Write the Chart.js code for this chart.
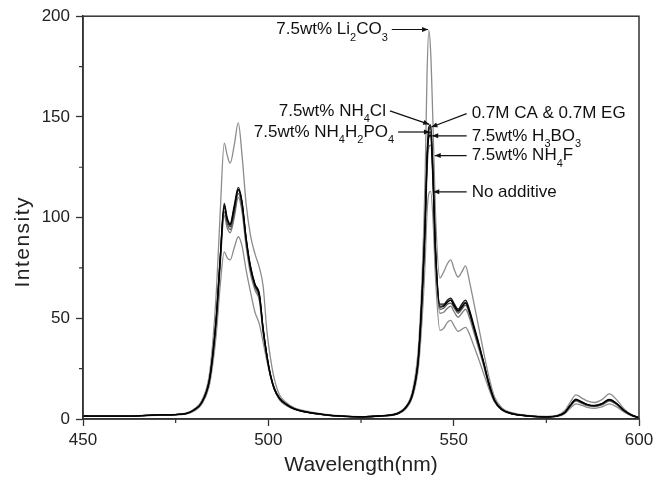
<!DOCTYPE html>
<html>
<head>
<meta charset="utf-8">
<script src="https://cdn.jsdelivr.net/npm/chart.js@4.4.1/dist/chart.umd.min.js"></script>
<style>
html, body { margin: 0; padding: 0; background: #fff; }
</style>
</head>
<body>
<canvas id="myChart" width="669" height="483"></canvas>
<script>
'use strict';
// wavelength grid (nm)
let wavelength = [450, 455, 460, 465, 470, 475, 478, 480, 482,
    484, 485, 486, 487, 488.1, 488.9, 489.7, 490.8, 491.9, 492.9,
    494, 495.2, 496.4, 497.6, 498.6, 499.6, 500.6, 501.6, 503, 505,
    507, 510, 515, 520, 525, 530, 535, 537, 539, 540.5,
    541.5, 542.3, 542.8, 543.3, 543.8, 544.4, 545.1, 546.3, 547.3, 548.3,
    549.2, 550.2, 551.2, 552.2, 553.2, 554.3, 555.3, 556.5, 558, 559.5,
    561, 563, 566, 570, 575, 578, 580, 581.5, 583, 584.5,
    586, 588, 590, 592, 594, 596, 598, 600];

let li2co3 = [1.6, 1.5, 1.5, 1.7, 2.1, 2.3, 3.0, 5.0, 9.0,
    21, 38, 64, 102, 137, 131, 127, 136, 147, 131,
    107, 91, 82, 75, 66, 44, 30, 20, 12, 8,
    5.5, 4, 2.4, 1.5, 1.2, 1.6, 3.2, 6, 15, 36,
    72, 120, 170, 193, 182, 148, 102, 70, 73, 77,
    79, 74, 70.5, 73, 76, 68, 59, 48, 34, 21,
    11, 5.5, 3, 1.8, 1.3, 1.9, 4.2, 8.5, 12, 10.5,
    9, 8.2, 9.6, 12.5, 9.5, 5, 2.2, 0.8];

let nh4cl = [1.5, 1.4, 1.4, 1.6, 2.0, 2.2, 2.8, 4.6, 8.2,
    18.5, 32, 52, 80, 107, 100, 97, 106, 115, 108,
    90, 76, 67, 62, 45, 32, 22, 15.5, 10.5, 7.2,
    5.1, 3.6, 2.2, 1.4, 1.1, 1.5, 2.9, 5.6, 13.5, 31,
    63, 98, 130, 145, 146, 123, 85, 57, 57, 59,
    60, 57, 54.5, 57, 59, 54, 47.5, 39.5, 29, 18,
    9.5, 4.8, 2.6, 1.6, 1.1, 1.6, 3.3, 7, 9.8, 8.6,
    7.3, 6.7, 7.7, 9.7, 7.7, 4.2, 1.9, 0.6];

let caEg = [1.5, 1.4, 1.4, 1.6, 2.0, 2.2, 2.8, 4.5, 8.1,
    18.2, 31.5, 51, 79, 105, 99, 95.5, 104, 113.5, 107,
    89, 75, 66.5, 61, 44.5, 31.5, 21.5, 15, 10.2, 7,
    5, 3.5, 2.2, 1.4, 1.1, 1.5, 2.8, 5.5, 13, 30.5,
    62, 97, 129, 143, 145, 124, 84, 56, 56.5, 58,
    59, 56, 54, 56, 58, 53, 46.5, 39, 28.5, 17.5,
    9.2, 4.7, 2.5, 1.6, 1.1, 1.5, 3.2, 6.8, 9.4, 8.3,
    7.1, 6.5, 7.4, 9.4, 7.4, 4.1, 1.9, 0.6];

let nh4h2po4 = [1.5, 1.4, 1.4, 1.6, 2.0, 2.2, 2.8, 4.5, 8,
    18, 31, 50, 77, 103, 97, 94, 102, 112, 105,
    88, 74, 65.5, 60, 43.5, 31, 21, 14.8, 10, 7,
    5, 3.5, 2.1, 1.3, 1.0, 1.4, 2.8, 5.4, 12.8, 30,
    61, 96, 127, 141, 142.5, 121, 82, 54.5, 55, 57,
    57.5, 55, 52.5, 54.5, 56.5, 52, 45.5, 38, 28, 17,
    9, 4.6, 2.5, 1.5, 1.0, 1.5, 3.1, 6.6, 9.2, 8.1,
    6.9, 6.4, 7.2, 9.2, 7.3, 4, 1.8, 0.6];

let h3bo3 = [1.5, 1.4, 1.4, 1.6, 2.0, 2.2, 2.8, 4.6, 8.1,
    18.3, 31.5, 51, 79, 106, 99, 96.5, 105, 114, 107.5,
    90, 75, 66.5, 61.5, 44.5, 31.5, 21.5, 15, 10.2, 7,
    5, 3.5, 2.2, 1.4, 1.1, 1.5, 2.8, 5.5, 13, 30.5,
    62, 96, 127, 140, 141, 120, 83, 55.5, 56, 58,
    59, 56, 53.5, 55.5, 57.5, 53, 46.5, 38.5, 28.5, 17.5,
    9.3, 4.7, 2.5, 1.6, 1.1, 1.6, 3.2, 6.8, 9.6, 8.4,
    7.2, 6.6, 7.6, 9.6, 7.6, 4.2, 1.9, 0.6];

let nh4f = [1.5, 1.4, 1.4, 1.6, 1.9, 2.1, 2.7, 4.4, 7.9,
    17.8, 30.5, 49, 76, 101, 95, 92.5, 100, 110, 103,
    86, 72, 64, 58.5, 42.5, 30.5, 21, 14.6, 9.9, 6.9,
    4.9, 3.4, 2.1, 1.3, 1.0, 1.4, 2.7, 5.3, 12.5, 29,
    59, 92, 122, 135, 136, 118, 80, 52.5, 53, 55,
    56, 53, 50.5, 52.5, 54.5, 50, 44, 36.5, 27, 16.5,
    8.8, 4.5, 2.4, 1.5, 1.0, 1.4, 3.0, 6.4, 8.9, 7.8,
    6.7, 6.2, 7, 8.9, 7.1, 3.9, 1.8, 0.6];

let noAdditive = [1.4, 1.3, 1.3, 1.5, 1.8, 2.0, 2.5, 4.0, 7.2,
    16, 27, 43, 66, 83, 80, 79, 85, 90.5, 86,
    74, 63, 53, 47, 38, 29, 21, 15, 9.5, 6.5,
    4.8, 3.4, 2.0, 1.3, 1.0, 1.3, 2.5, 4.8, 11.5, 26,
    50, 78, 102, 112, 113, 100, 70, 44, 45, 48,
    49, 46, 43.5, 44.5, 45.5, 42, 37, 31, 23, 15,
    8.5, 4.5, 2.4, 1.5, 1.0, 1.3, 2.6, 5.5, 7.5, 6.8,
    5.8, 5.3, 6, 7.5, 6, 3.4, 1.6, 0.5];

// tick values
let xMinorTicks = [475, 525, 575];
let yMinorTicks = [25, 75, 125, 175];

// black lines first so they sit on top of the grey ones
let seriesList = [
    { name: '7.5wt% H3BO3', values: h3bo3, color: '#000000' },
    { name: '7.5wt% NH4Cl', values: nh4cl, color: '#151515' },
    { name: '0.7M CA & 0.7M EG', values: caEg, color: '#2a2a2a' },
    { name: '7.5wt% NH4H2PO4', values: nh4h2po4, color: '#555555' },
    { name: '7.5wt% NH4F', values: nh4f, color: '#7a7a7a' },
    { name: '7.5wt% Li2CO3', values: li2co3, color: '#8c8c8c' },
    { name: 'No additive', values: noAdditive, color: '#8c8c8c' }
];

// arrows: text with _n for subscript, from/tip in data units
let notes = [
    { text: '7.5wt% Li_2CO_3', side: 'left', from: [533.3, 193.4], tip: [543.1, 193.4] },
    { text: '7.5wt% NH_4Cl', side: 'left', from: [532.8, 153], tip: [543.4, 146.3] },
    { text: '7.5wt% NH_4H_2PO_4', side: 'left', from: [535, 142.5], tip: [543.6, 142.5] },
    { text: '0.7M CA & 0.7M EG', side: 'right', from: [553.5, 151.6], tip: [544, 145] },
    { text: '7.5wt% H_3BO_3', side: 'right', from: [553.5, 140.6], tip: [544.2, 140.6] },
    { text: '7.5wt% NH_4F', side: 'right', from: [553.5, 130.8], tip: [544.9, 130.8] },
    { text: 'No additive', side: 'right', from: [553.5, 112.8], tip: [544.5, 112.8] }
];

let fontFamily = '"Liberation Sans", Arial, Helvetica, sans-serif';
let mainFont = '17px ' + fontFamily;
let subFont = '11px ' + fontFamily;

function drawRich(ctx, text, xPos, yPos, align)
{
    let parts = text.split(/_(\d)/);
    let total = 0;
    parts.forEach((p, i) => {
        ctx.font = i % 2 ? subFont : mainFont;
        total += ctx.measureText(p).width;
    });
    let cx = align === 'right' ? xPos - total : xPos;
    parts.forEach((p, i) => {
        let sub = i % 2 === 1;
        ctx.font = sub ? subFont : mainFont;
        ctx.fillText(p, cx, yPos + (sub ? 8 : 0));
        cx += ctx.measureText(p).width;
    });
}

let framePlugin = {
    id: 'frameAndNotes',
    afterDatasetsDraw(chart)
    {
        let ctx = chart.ctx;
        let area = chart.chartArea;
        let xs = chart.scales.x;
        let ys = chart.scales.y;
        ctx.save();
        ctx.strokeStyle = '#333';
        ctx.lineWidth = 1.5;
        ctx.strokeRect(area.left, area.top, area.right - area.left, area.bottom - area.top);

        // minor ticks
        ctx.lineWidth = 1.2;
        ctx.beginPath();
        xMinorTicks.forEach(v => {
            let px = xs.getPixelForValue(v);
            ctx.moveTo(px, area.bottom);
            ctx.lineTo(px, area.bottom + 4);
        });
        yMinorTicks.forEach(v => {
            let py = ys.getPixelForValue(v);
            ctx.moveTo(area.left, py);
            ctx.lineTo(area.left - 4, py);
        });
        ctx.stroke();

        // labels with arrows
        ctx.fillStyle = '#111';
        ctx.strokeStyle = '#111';
        ctx.textBaseline = 'middle';
        ctx.textAlign = 'left';
        notes.forEach(n => {
            let x1 = xs.getPixelForValue(n.from[0]);
            let y1 = ys.getPixelForValue(n.from[1]);
            let x2 = xs.getPixelForValue(n.tip[0]);
            let y2 = ys.getPixelForValue(n.tip[1]);
            ctx.lineWidth = 1.2;
            ctx.beginPath();
            ctx.moveTo(x1, y1);
            ctx.lineTo(x2, y2);
            ctx.stroke();
            let ang = Math.atan2(y2 - y1, x2 - x1);
            ctx.beginPath();
            ctx.moveTo(x2, y2);
            ctx.lineTo(x2 - 6 * Math.cos(ang) + 2.5 * Math.sin(ang), y2 - 6 * Math.sin(ang) - 2.5 * Math.cos(ang));
            ctx.lineTo(x2 - 6 * Math.cos(ang) - 2.5 * Math.sin(ang), y2 - 6 * Math.sin(ang) + 2.5 * Math.cos(ang));
            ctx.closePath();
            ctx.fill();
            if (n.side === 'left') {
                drawRich(ctx, n.text, x1 - 4, y1, 'right');
            } else {
                drawRich(ctx, n.text, x1 + 5, y1, 'left');
            }
        });

        // y axis title, sits a bit below the middle like the original
        ctx.translate(23, ys.getPixelForValue(88));
        ctx.rotate(-Math.PI / 2);
        ctx.font = '21px ' + fontFamily;
        ctx.fillStyle = '#222';
        ctx.textAlign = 'center';
        ctx.textBaseline = 'middle';
        if ('letterSpacing' in ctx) ctx.letterSpacing = '1.5px';
        ctx.fillText('Intensity', 0, 0);
        ctx.restore();
    }
};

let datasets = seriesList.map(s => ({
    label: s.name,
    data: wavelength.map((w, i) => ({ x: w, y: s.values[i] })),
    borderColor: s.color,
    borderWidth: 1.3,
    pointRadius: 0,
    fill: false,
    cubicInterpolationMode: 'monotone'
}));

let axisColor = '#333';
let ctx = document.getElementById('myChart').getContext('2d');
let myChart = new Chart(ctx, {
    type: 'line',
    data: { datasets: datasets },
    plugins: [framePlugin],
    options: {
        responsive: false,
        animation: false,
        devicePixelRatio: 1,
        layout: { padding: { top: 16, right: 30, left: 0, bottom: 0 } },
        plugins: {
            legend: { display: false },
            tooltip: { enabled: false }
        },
        scales: {
            x: {
                type: 'linear',
                min: 450,
                max: 600,
                afterFit(scale) { scale.height = 64; },
                ticks: {
                    stepSize: 50,
                    color: '#222',
                    padding: 4,
                    maxRotation: 0,
                    font: { family: fontFamily, size: 17 }
                },
                grid: { drawOnChartArea: false, tickLength: 7, color: axisColor, tickWidth: 1.3 },
                border: { color: axisColor, width: 1.5 },
                title: {
                    display: true,
                    text: 'Wavelength(nm)',
                    color: '#222',
                    font: { family: fontFamily, size: 21 },
                    padding: { top: 0, bottom: 5 }
                }
            },
            y: {
                min: 0,
                max: 200,
                afterFit(scale) { scale.width = 83; },
                ticks: {
                    stepSize: 50,
                    color: '#222',
                    padding: 6,
                    font: { family: fontFamily, size: 17 }
                },
                grid: { drawOnChartArea: false, tickLength: 7, color: axisColor, tickWidth: 1.3 },
                border: { color: axisColor, width: 1.5 }
            }
        }
    }
});
</script>
</body>
</html>
